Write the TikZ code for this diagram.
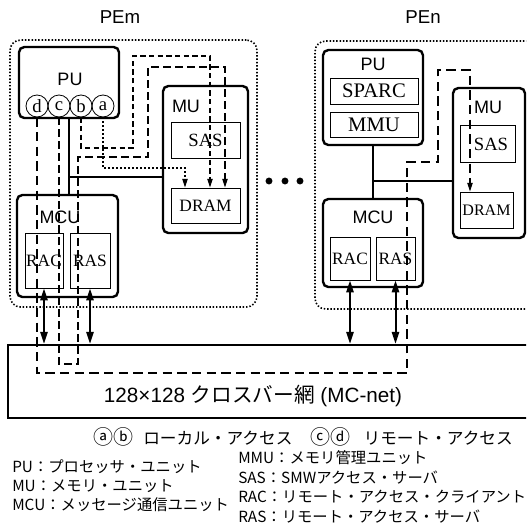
\documentclass[tikz,border=0pt]{standalone}
\usepackage{fontspec}
\setmainfont{Liberation Serif}
\setsansfont{Liberation Sans}
\newfontfamily\jp{Noto Sans CJK JP}
\usetikzlibrary{arrows.meta,positioning,calc,fit}
\tikzset{
  pebox/.style={draw, line width=1.2pt, dash pattern=on 1.1pt off 1.4pt, rounded corners=8pt, inner sep=0pt},
  unitbox/.style={draw, line width=1.8pt, rounded corners=4pt, inner sep=0pt},
  subbox/.style={draw, line width=0.7pt, inner sep=0pt},
  pelbl/.style={font=\sffamily\fontsize{14}{14}\selectfont},
  ulbl/.style={font=\sffamily\fontsize{13.5}{13.5}\selectfont},
  slbl/.style={font=\fontsize{13}{13}\selectfont},
  port/.style={draw, circle, line width=0.6pt, minimum size=16.5pt, inner sep=0pt, font=\fontsize{14}{14}\selectfont},
  bus/.style={line width=1.5pt},
  biarr/.style={{Triangle[length=9pt,width=5.5pt]}-{Triangle[length=9pt,width=5.5pt]}, line width=1.5pt},
  acc/.style={-{Triangle[length=6.5pt,width=4pt]}, line width=0.8pt},
  pa/.style={dash pattern=on 1.5pt off 1.5pt},
  pb/.style={dash pattern=on 4pt off 2.5pt},
  pc/.style={dash pattern=on 6pt off 3pt},
  pd/.style={dash pattern=on 7pt off 4pt},
  leg/.style={anchor=west, inner sep=0pt, font=\jp\fontsize{11.5}{11.5}\selectfont},
}
\newcommand\circs[1]{{\fontsize{15}{15}\selectfont #1}}
\begin{document}
\begin{tikzpicture}[x=0.75pt, y=-0.75pt]
  \useasboundingbox (0,0) rectangle (526,529);
  \clip (0,0) rectangle (526,529);
  % PEm
  \node[pebox, fit={(10,40) (257,307)}] (pem) {};
  \node[pelbl] at (120,17) {PEm};
  \node[unitbox, fit={(19,47) (119,118)}] (pum) {};
  \node[ulbl] at (70,79) {PU};
  \foreach \l/\x in {d/37,c/59,b/81,a/103}
    \node[port] (c\l) at (\x,106) {\l};
  \node[unitbox, fit={(17,195) (118,297)}] (mcum) {};
  \node[ulbl] at (60,217) {MCU};
  \node[subbox, fit={(25,233) (63,288)}, label={[slbl]center:RAC}] (racm) {};
  \node[subbox, fit={(70,233) (110,288)}, label={[slbl]center:RAS}] (rasm) {};
  \node[unitbox, fit={(163,86) (248,233)}] (mum) {};
  \node[ulbl] at (186,106) {MU};
  \node[subbox, fit={(171,122) (240,158)}, label={[slbl, font=\fontsize{14}{14}\selectfont]center:SAS}] (sasm) {};
  \node[subbox, fit={(171,188) (240,223)}, label={[slbl]center:DRAM}] (dramm) {};
  \coordinate (jm) at (69,177);
  \draw[bus] (pum.south) -- (jm) -- (jm |- mcum.north);
  \draw[bus] (jm) -- (jm -| mum.west);
  % PEn
  \node[pebox, fit={(315,41) (545,309)}] (pen) {};
  \node[pelbl] at (423,17) {PEn};
  \node[unitbox, fit={(323,50) (423,145)}] (pun) {};
  \node[ulbl] at (373,64) {PU};
  \node[subbox, fit={(330,78) (418,104)}, label={[slbl, font=\fontsize{15.5}{15.5}\selectfont]center:SPARC}] (sparc) {};
  \node[subbox, fit={(330,112) (418,137)}, label={[slbl, font=\fontsize{15.5}{15.5}\selectfont]center:MMU}] (mmu) {};
  \node[unitbox, fit={(453,88) (525,238)}] (mun) {};
  \node[ulbl] at (488,107) {MU};
  \node[subbox, fit={(460,125) (515,162)}] (sasn) {};
  \node[slbl, font=\fontsize{14}{14}\selectfont] at (491,144) {SAS};
  \node[subbox, fit={(460,192) (513,228)}, label={[slbl, font=\fontsize{12}{12}\selectfont]center:DRAM}] (dramn) {};
  \node[unitbox, fit={(323,199) (423,287)}] (mcun) {};
  \node[ulbl] at (373,217) {MCU};
  \node[subbox, fit={(330,237) (370,280)}, label={[slbl]center:RAC}] (racn) {};
  \node[subbox, fit={(376,237) (415,280)}, label={[slbl]center:RAS}] (rasn) {};
  \coordinate (jn) at (373,181);
  \draw[bus] (pun.south) -- (jn) -- (jn |- mcun.north);
  \draw[bus] (jn) -- (jn -| mun.west);
  \foreach \x in {269,285,300}
    \fill (\x,181) circle (2.6pt);
  % crossbar
  \node[draw, line width=1.8pt, inner sep=0pt, fit={(8,345) (545,418)}] (net) {};
  \node[font=\sffamily\fontsize{15.5}{15.5}\selectfont] at (253,396) {128×128 {\jp クロスバー網}~(MC-net)};
  \draw[biarr] (racm.south) -- (racm.south |- net.north);
  \draw[biarr] (rasm.south) -- (rasm.south |- net.north);
  \draw[biarr] (racn.south) -- (racn.south |- net.north);
  \draw[biarr] (rasn.south) -- (rasn.south |- net.north);
  % access paths
  \path (185,0) coordinate (xa) (210,0) coordinate (xb)
        (225,0) coordinate (xc) (470,0) coordinate (xd);
  \draw[acc, pa] (ca.south) |- (185,168) -- (xa |- dramm.north);
  \draw[acc, pb] (cb.south) |- (133,148) |- (210,56) -- (xb |- dramm.north);
  \draw[acc, pc] (cc.south) |- (78,364) |- (148,157) |- (225,67) -- (xc |- dramm.north);
  \draw[acc, pd] (cd.south) |- (407,373) |- (438,162) |- (470,70) -- (xd |- dramn.north);
  % legend
  \node[leg, font=\jp\fontsize{12.5}{12.5}\selectfont] at (93,437) {\circs{ⓐⓑ}\hspace{0.6em}ローカル・アクセス};
  \node[leg, font=\jp\fontsize{12.5}{12.5}\selectfont] at (310,437) {\circs{ⓒⓓ}\hspace{0.8em}リモート・アクセス};
  \node[leg] at (12,467) {PU：プロセッサ・ユニット};
  \node[leg] at (12,486) {MU：メモリ・ユニット};
  \node[leg] at (12,505) {MCU：メッセージ通信ユニット};
  \node[leg] at (238,458) {MMU：メモリ管理ユニット};
  \node[leg] at (238,478) {SAS：SMWアクセス・サーバ};
  \node[leg] at (238,497) {RAC：リモート・アクセス・クライアント};
  \node[leg] at (238,517) {RAS：リモート・アクセス・サーバ};
\end{tikzpicture}
\end{document}
